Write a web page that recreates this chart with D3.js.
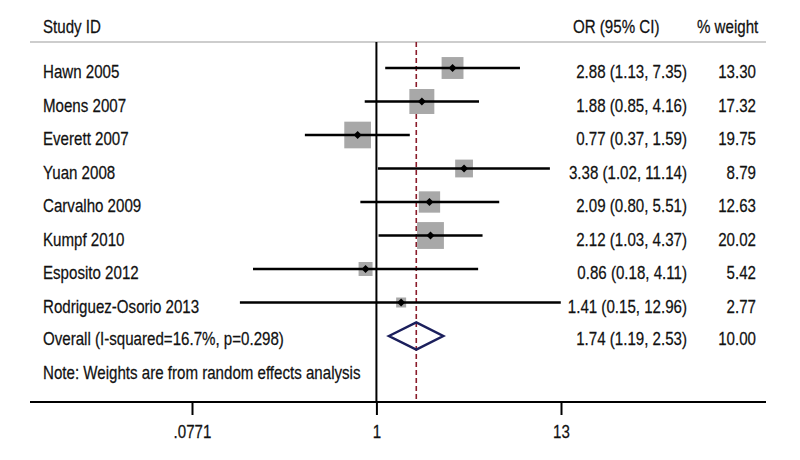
<!DOCTYPE html>
<html>
<head>
<meta charset="utf-8">
<script src="https://cdn.jsdelivr.net/npm/d3@7"></script>
<style>
  html, body { margin: 0; padding: 0; background: #fff; }
  svg { display: block; }
  text { font-family: "Liberation Sans", Arial, sans-serif; font-size: 19px; fill: #111; stroke: #111; stroke-width: 0.25px; }
</style>
</head>
<body>
<svg id="chart" width="800" height="460"></svg>
<script>
// ---- data ----
const studies = ["Hawn 2005", "Moens 2007", "Everett 2007", "Yuan 2008", "Carvalho 2009",
                 "Kumpf 2010", "Esposito 2012", "Rodriguez-Osorio 2013"];
const orValues = [2.88, 1.88, 0.77, 3.38, 2.09, 2.12, 0.86, 1.41];
const ciLower  = [1.13, 0.85, 0.37, 1.02, 0.80, 1.03, 0.18, 0.15];
const ciUpper  = [7.35, 4.16, 1.59, 11.14, 5.51, 4.37, 4.11, 12.96];
const weights  = [13.30, 17.32, 19.75, 8.79, 12.63, 20.02, 5.42, 2.77];
const overallLabel = "Overall  (I-squared=16.7%, p=0.298)";
const overall = { or: 1.74, lo: 1.19, hi: 2.53, weight: 10.00 };
const noteLabel = "Note: Weights are from random effects analysis";
const headers = ["Study ID", "OR (95% CI)", "% weight"];
const tickValues = [0.0771, 1, 13];
const tickLabels = [".0771", "1", "13"];

// ---- layout ----
const svg = d3.select("#chart");
const x = d3.scaleLog().domain([0.0771, 13]).range([192, 561]);
const y = d3.scaleLinear().domain([0, 8]).range([68, 336]);
const f2 = d3.format(".2f");
const topY = 42, axisY = 402, leftX = 30, rightX = 766;
const textLeft = 43, orRight = 687, wRight = 756;
const narrow = 0.795;

function addText(parent, tx, ty, str, anchor) {
  return parent.append("text")
    .attr("transform", `translate(${tx},${ty}) scale(${narrow},1)`)
    .attr("text-anchor", anchor || "start")
    .text(str);
}

// header
addText(svg, textLeft, 33, headers[0]);
addText(svg, 573, 33, headers[1]);
addText(svg, 697, 33, headers[2]);
svg.append("line").attr("x1", leftX).attr("x2", rightX).attr("y1", topY).attr("y2", topY)
  .attr("stroke", "#bdbdbd").attr("stroke-width", 1.5);

// reference line at 1
svg.append("line").attr("x1", x(1)).attr("x2", x(1)).attr("y1", topY).attr("y2", axisY)
  .attr("stroke", "#000").attr("stroke-width", 2);

// overall dashed line
svg.append("line").attr("x1", x(overall.or)).attr("x2", x(overall.or)).attr("y1", topY).attr("y2", axisY)
  .attr("stroke", "#8a1c2a").attr("stroke-width", 1.6).attr("stroke-dasharray", "5,3");

// studies
const rows = studies.map((s, i) => ({ s, or: orValues[i], lo: ciLower[i], hi: ciUpper[i], w: weights[i], i }));
const g = svg.append("g");
rows.forEach(d => {
  const yy = y(d.i);
  const side = 6 * Math.sqrt(d.w);
  g.append("rect").attr("x", x(d.or) - side / 2).attr("y", yy - side / 2)
    .attr("width", side).attr("height", side).attr("fill", "#a8a8a8");
  g.append("line").attr("x1", x(d.lo)).attr("x2", x(d.hi)).attr("y1", yy).attr("y2", yy)
    .attr("stroke", "#000").attr("stroke-width", 2.6);
  const px = x(d.or);
  g.append("path").attr("d", `M${px - 4},${yy} L${px},${yy - 4} L${px + 4},${yy} L${px},${yy + 4} Z`)
    .attr("fill", "#000");
  addText(g, textLeft, yy + 10, d.s);
  addText(g, orRight, yy + 10, `${f2(d.or)} (${f2(d.lo)}, ${f2(d.hi)})`, "end");
  addText(g, wRight, yy + 10, f2(d.w), "end");
});

// overall row
const oy = y(8);
svg.append("path")
  .attr("d", `M${x(overall.lo)},${oy} L${x(overall.or)},${oy - 13.5} L${x(overall.hi)},${oy} L${x(overall.or)},${oy + 13.5} Z`)
  .attr("fill", "none").attr("stroke", "#1b1f5c").attr("stroke-width", 2.5).attr("stroke-linejoin", "miter");
addText(svg, textLeft, oy + 9, overallLabel);
addText(svg, orRight, oy + 9, `${f2(overall.or)} (${f2(overall.lo)}, ${f2(overall.hi)})`, "end");
addText(svg, wRight, oy + 9, f2(overall.weight), "end");

// note
addText(svg, textLeft, y(9) + 9, noteLabel);

// axis
svg.append("line").attr("x1", leftX).attr("x2", rightX).attr("y1", axisY).attr("y2", axisY)
  .attr("stroke", "#000").attr("stroke-width", 2);
const axis = d3.axisBottom(x).tickValues(tickValues)
  .tickFormat((d, i) => tickLabels[i]).tickSize(13).tickSizeOuter(0).tickPadding(9);
const ag = svg.append("g").attr("transform", `translate(0,${axisY})`).call(axis);
ag.attr("font-family", null).attr("font-size", null);
ag.select(".domain").remove();
ag.selectAll(".tick line").attr("stroke", "#000").attr("stroke-width", 2);
ag.selectAll(".tick text")
  .attr("y", null).attr("dy", null)
  .attr("transform", `translate(0,36) scale(${narrow},1)`)
  .attr("fill", "#111");
</script>
</body>
</html>
